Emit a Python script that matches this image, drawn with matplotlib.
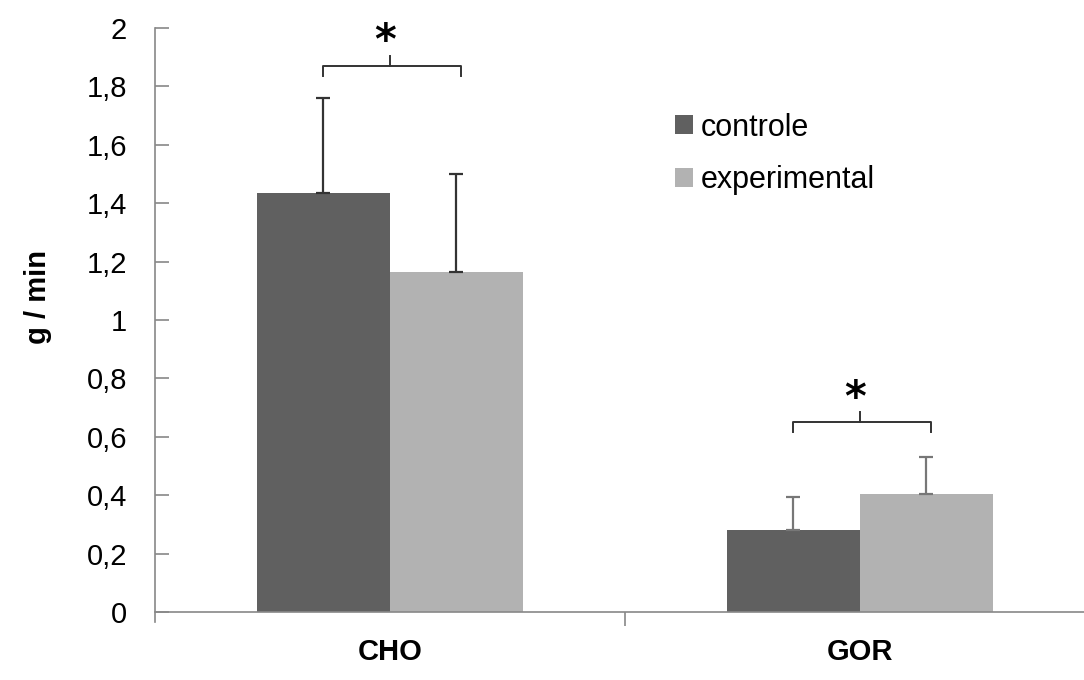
import matplotlib
matplotlib.use("Agg")
import matplotlib.pyplot as plt
import numpy as np

plt.rcParams['font.family'] = ['Liberation Sans', 'DejaVu Sans']

# dados
categorias = ['CHO', 'GOR']
series = ['controle', 'experimental']
controle = [1.435, 0.28]
experimental = [1.163, 0.403]
controle_err = [0.325, 0.115]
experimental_err = [0.338, 0.127]
yticks = [0, 0.2, 0.4, 0.6, 0.8, 1.0, 1.2, 1.4, 1.6, 1.8, 2.0]
ytick_labels = ['0', '0,2', '0,4', '0,6', '0,8', '1', '1,2', '1,4', '1,6', '1,8', '2']
# altura das chaves de significancia por categoria
chave_y = [1.87, 0.65]

cores = ['#606060', '#b2b2b2']
cor_erro = ['#333333', '#777777']

fig = plt.figure(figsize=(10.84, 6.8), dpi=100)
ax = fig.add_axes([0.143, 0.1, 0.867, 0.859])

x = np.arange(len(categorias))
w = 0.283
ax.bar(x - w / 2, controle, w, color=cores[0], label=series[0])
ax.bar(x + w / 2, experimental, w, color=cores[1], label=series[1])

# barras de erro so para cima
for i in range(len(categorias)):
    ax.errorbar([x[i] - w / 2, x[i] + w / 2], [controle[i], experimental[i]],
                yerr=[[0, 0], [controle_err[i], experimental_err[i]]],
                fmt='none', ecolor=cor_erro[i], elinewidth=1.6, capsize=5,
                capthick=1.6)

# chaves com asterisco
for i in range(len(categorias)):
    x0, x1 = x[i] - w / 2, x[i] + w / 2 + 0.01
    y = chave_y[i]
    ax.plot([x0, x0, x1, x1], [y - 0.035, y, y, y - 0.035], color='#333333', lw=1.4)
    ax.plot([x[i], x[i]], [y, y + 0.035], color='#333333', lw=1.4)
    ax.text(x[i] - 0.01, y + 0.08, '*', ha='center', va='center', fontsize=30,
            fontweight='bold', family='DejaVu Sans')

ax.set_xlim(-0.5, 1.5)
ax.set_ylim(0, 2)
ax.set_yticks(yticks)
ax.set_yticklabels(ytick_labels, fontsize=21)
ax.set_xticks([0.5])
ax.set_xticklabels([''])
ax.tick_params(axis='y', direction='in', length=10, color='#888888', width=1.2, pad=20)
ax.tick_params(axis='x', direction='out', length=10, color='#888888', width=1.2)
for i, c in enumerate(categorias):
    ax.text(x[i], -0.137, c, ha='center', va='center', fontsize=21, fontweight='bold')

for s in ['top', 'right']:
    ax.spines[s].set_visible(False)
for s in ['left', 'bottom']:
    ax.spines[s].set_color('#888888')
    ax.spines[s].set_linewidth(1.2)
ax.spines['left'].set_bounds(-0.035, 2)

ax.set_ylabel('g / min', fontsize=21, fontweight='bold')
ax.yaxis.set_label_coords(-0.11, 0.54)

ax.legend(loc='upper left', bbox_to_anchor=(0.54, 0.876), frameon=False, fontsize=22,
          handlelength=0.6, handleheight=0.6, handletextpad=0.25, labelspacing=0.75,
          borderaxespad=0)

fig.savefig('out.png', dpi=100)
